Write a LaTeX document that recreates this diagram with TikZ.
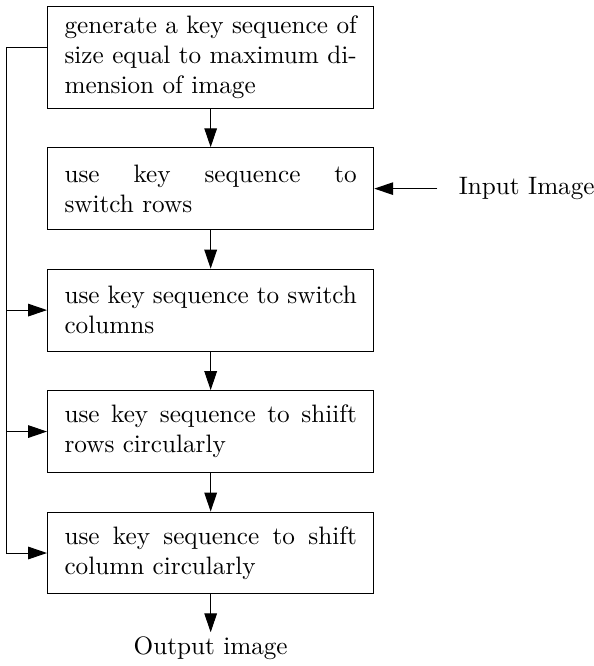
\documentclass[tikz,border=0pt]{standalone}
\usepackage{tikz}
\usetikzlibrary{arrows.meta, positioning, calc}

\begin{document}
\begin{tikzpicture}[
    stage/.style={draw, text width=116pt, align=justify, inner xsep=6.75pt,
      inner ysep=3.6pt, minimum height=32.5pt},
    flow/.style={-{Triangle[length=7.5pt,width=5pt]}},
    node distance=15.3pt
  ]
  \useasboundingbox (0,0) rectangle (235.7pt,-264.3pt);

  % Processing stages
  \node[stage, anchor=north west] (keygen) at (18.65pt,-2.4pt)
    {generate a key sequence of size equal to maximum dimension of image};
  \node[stage, below=of keygen] (swrows) {use key sequence to switch~rows};
  \node[stage, below=of swrows] (swcols) {use key sequence to switch columns};
  \node[stage, below=of swcols] (shrows) {use key sequence to shiift rows circularly};
  \node[stage, below=of shrows] (shcols) {use key sequence to shift column circularly};

  % Input and output
  \node[right=30pt of swrows] (input) {Input Image};
  \node[below=15pt of shcols, inner sep=1.5pt] (output) {Output image};

  % Main flow
  \draw[flow] (keygen) -- (swrows);
  \draw[flow] (swrows) -- (swcols);
  \draw[flow] (swcols) -- (shrows);
  \draw[flow] (shrows) -- (shcols);
  \draw[flow] (shcols) -- (output);
  \draw[flow, shorten <=5pt] (input) -- (swrows);

  % Key sequence rail
  \coordinate (rail) at ([xshift=-15.9pt]keygen.west);
  \draw[flow] ([yshift=3.8pt]keygen.west) -| (rail |- shcols.west) -- (shcols.west);
  \draw[flow] (rail |- swcols.west) -- (swcols.west);
  \draw[flow] (rail |- shrows.west) -- (shrows.west);
\end{tikzpicture}
\end{document}
